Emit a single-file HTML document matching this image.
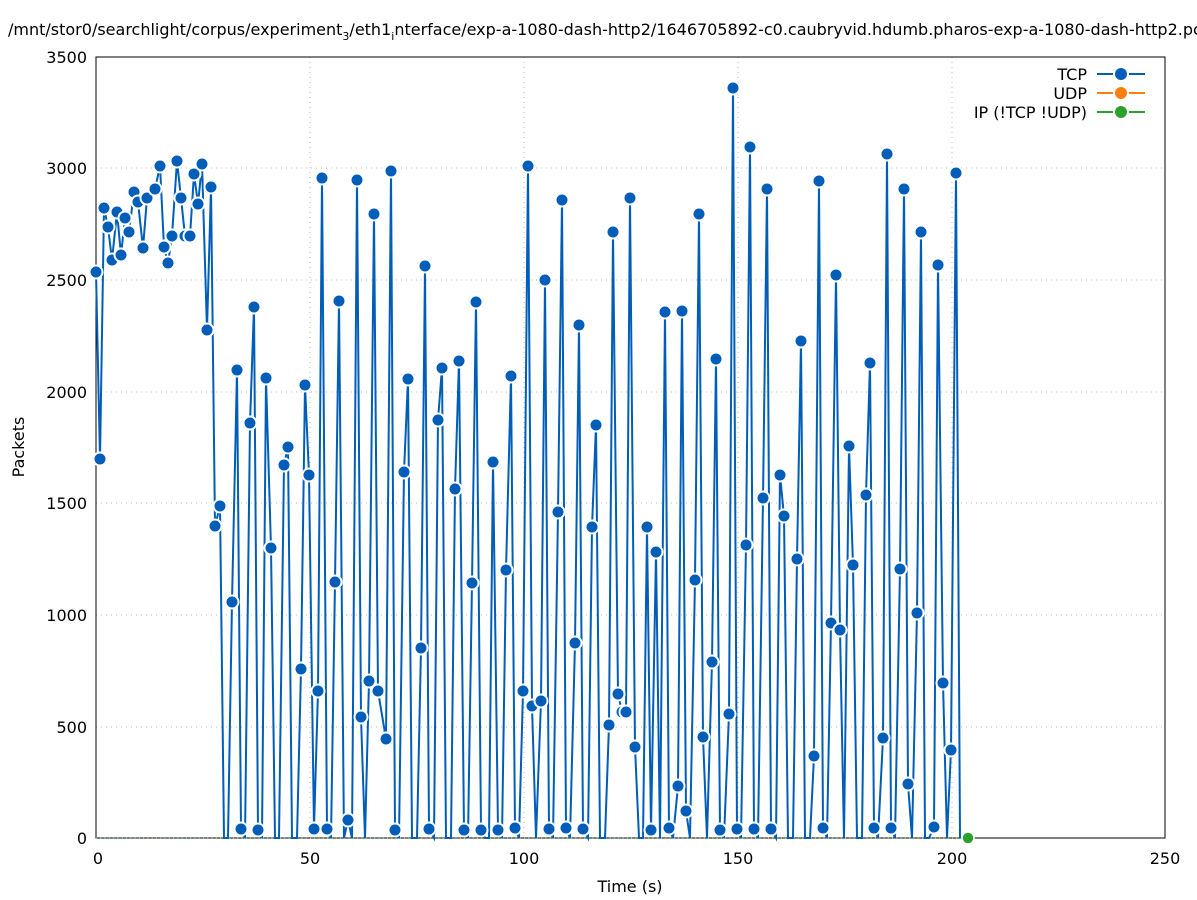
<!DOCTYPE html>
<html><head><meta charset="utf-8"><style>body{margin:0;background:#fff}svg{display:block;font-family:"DejaVu Sans","Liberation Sans",sans-serif}</style></head>
<body>
<svg id="s" width="1197" height="900" xmlns="http://www.w3.org/2000/svg">
<rect width="1197" height="900" fill="#fff"/>
<g stroke="#bbb" stroke-dasharray="1,4" stroke-width="1">
<line x1="310" y1="57" x2="310" y2="838"/><line x1="524" y1="57" x2="524" y2="838"/><line x1="738" y1="57" x2="738" y2="838"/><line x1="952" y1="57" x2="952" y2="838"/>
<line x1="96" y1="727" x2="1165" y2="727"/><line x1="96" y1="615" x2="1165" y2="615"/><line x1="96" y1="503" x2="1165" y2="503"/><line x1="96" y1="392" x2="1165" y2="392"/><line x1="96" y1="280" x2="1165" y2="280"/><line x1="96" y1="168" x2="1165" y2="168"/>
</g>
<rect x="96" y="57" width="1069" height="781" fill="none" stroke="#000" stroke-width="1"/>
<g font-size="16" text-anchor="end" fill="#000">
<text x="87" y="844">0</text><text x="87" y="733">500</text><text x="87" y="621">1000</text><text x="87" y="509">1500</text><text x="87" y="398">2000</text><text x="87" y="286">2500</text><text x="87" y="174">3000</text><text x="87" y="63">3500</text>
</g>
<g font-size="16" text-anchor="middle">
<text x="98" y="864">0</text><text x="310" y="864">50</text><text x="524" y="864">100</text><text x="738" y="864">150</text><text x="952" y="864">200</text><text x="1165" y="864">250</text>
<text x="630" y="892">Time (s)</text>
</g>
<text x="24" y="447" font-size="16" text-anchor="middle" transform="rotate(-90 24 447)">Packets</text>
<text x="8" y="35" font-size="16">/mnt/stor0/searchlight/corpus/experiment<tspan font-size="11" dy="5">3</tspan><tspan dy="-5">/eth1</tspan><tspan font-size="11" dy="5">i</tspan><tspan dy="-5">nterface/exp-a-1080-dash-http2/1646705892-c0.caubryvid.hdumb.pharos-exp-a-1080-dash-http2.pcap</tspan></text>
<g font-size="16" text-anchor="end">
<text x="1087" y="80">TCP</text><text x="1087" y="99">UDP</text><text x="1087" y="118">IP (!TCP  !UDP)</text>
</g>
<g stroke-width="2">
<line x1="1097" y1="74" x2="1113" y2="74" stroke="#005eb8"/><line x1="1129" y1="74" x2="1145" y2="74" stroke="#005eb8"/>
<line x1="1097" y1="93" x2="1113" y2="93" stroke="#ff7f0e"/><line x1="1129" y1="93" x2="1145" y2="93" stroke="#ff7f0e"/>
<line x1="1097" y1="112" x2="1113" y2="112" stroke="#2ca02c"/><line x1="1129" y1="112" x2="1145" y2="112" stroke="#2ca02c"/>
</g>
<circle cx="1121" cy="74" r="6" fill="#005eb8"/><circle cx="1121" cy="93" r="6" fill="#ff7f0e"/><circle cx="1121" cy="112" r="6" fill="#2ca02c"/>
<line x1="96" y1="838" x2="968" y2="838" stroke="#2ca02c" stroke-width="1" stroke-dasharray="1,3.28"/>
<g id="d"></g>
<circle cx="968" cy="838" r="6" fill="#2ca02c" stroke="#fff" stroke-width="1.5"/>
</svg>
<script>
var p=[96,272,100,459,104,208,108,227,112,260,117,212,121,255,125,218,129,232,134,192,138,202,143,248,147,198,155,189,160,166,164,247,168,263,172,236,177,161,181,198,185,236,190,236,194,174,198,204,202,164,207,330,211,187,215,526,220,506,224,838,228,838,232,602,237,370,241,829,245,838,250,423,254,307,258,830,262,838,266,378,271,548,275,838,279,838,284,465,288,447,292,838,297,838,301,669,305,385,309,475,314,829,318,691,322,178,327,829,331,838,335,582,339,301,344,838,348,820,352,838,357,180,361,717,365,838,369,681,374,214,378,691,386,739,391,171,395,830,399,838,404,472,408,379,412,838,417,838,421,648,425,266,429,829,434,838,438,420,442,368,446,838,451,838,455,489,459,361,464,830,468,838,472,583,476,302,481,830,485,838,489,838,493,462,498,830,502,838,506,570,511,376,515,828,519,838,523,691,528,166,532,706,536,838,541,701,545,280,549,829,553,838,558,512,562,200,566,828,570,838,575,643,579,325,583,829,588,838,592,527,596,425,600,838,605,838,609,725,613,232,618,694,622,712,626,712,630,198,635,747,639,838,643,838,647,527,651,830,656,552,660,838,665,312,669,828,673,838,678,786,682,311,686,811,690,838,695,580,699,214,703,737,707,838,712,662,716,359,720,830,724,838,729,714,733,88,737,829,741,838,746,545,750,147,754,829,758,838,763,498,767,189,771,829,776,838,780,475,784,516,788,838,793,838,797,559,801,341,805,838,810,838,814,756,819,181,823,828,827,838,831,623,836,275,840,630,844,838,849,446,853,565,857,838,862,838,866,495,870,363,874,828,878,838,883,738,887,154,891,828,895,838,900,569,904,189,908,784,912,838,917,613,921,232,925,838,929,838,934,827,938,265,943,683,947,838,951,750,956,173,960,838];
var ns="http://www.w3.org/2000/svg",g=document.getElementById('d'),pts=[];
for(var i=0;i<p.length;i+=2)pts.push(p[i]+','+p[i+1]);
var pl=document.createElementNS(ns,'polyline');pl.setAttribute('points',pts.join(' '));pl.setAttribute('fill','none');pl.setAttribute('stroke','#005eb8');pl.setAttribute('stroke-width','2');g.appendChild(pl);
for(var i=0;i<p.length;i+=2){if(p[i+1]>=836)continue;var c=document.createElementNS(ns,'circle');c.setAttribute('cx',p[i]);c.setAttribute('cy',p[i+1]);c.setAttribute('r','6.5');c.setAttribute('fill','#005eb8');c.setAttribute('stroke','#fff');c.setAttribute('stroke-width','2');g.appendChild(c);}
</script>
</body></html>
